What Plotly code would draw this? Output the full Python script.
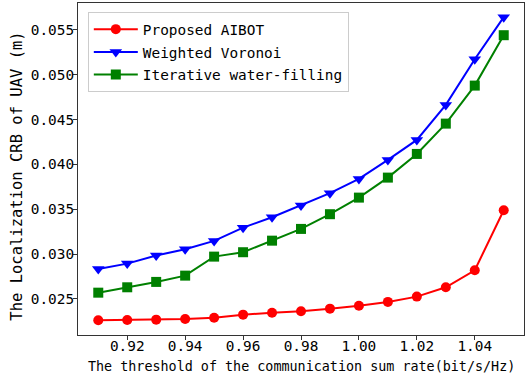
import plotly.graph_objects as go

x_vals = [0.91, 0.92, 0.93, 0.94, 0.95, 0.96, 0.97, 0.98, 0.99, 1.00, 1.01, 1.02, 1.03, 1.04, 1.05]
aibot = [0.02262, 0.02266, 0.02269, 0.02277, 0.02291, 0.02325, 0.02347, 0.02363, 0.02392,
         0.02425, 0.02467, 0.02526, 0.02630, 0.02820, 0.03489]
voronoi = [0.02835, 0.02894, 0.02984, 0.03055, 0.03147, 0.03295, 0.03411, 0.03541, 0.03679,
           0.03838, 0.04050, 0.04273, 0.04664, 0.05173, 0.05642]
waterfill = [0.02570, 0.02630, 0.02690, 0.02760, 0.02972, 0.03021, 0.03150, 0.03281, 0.03445,
             0.03630, 0.03853, 0.04117, 0.04455, 0.04879, 0.05441]
names = ["Proposed AIBOT", "Weighted Voronoi", "Iterative water-filling"]
x_ticks = [0.92, 0.94, 0.96, 0.98, 1.00, 1.02, 1.04]
y_ticks = [0.025, 0.030, 0.035, 0.040, 0.045, 0.050, 0.055]
x_title = "The threshold of the communication sum rate(bit/s/Hz)"
y_title = "The Localization CRB of UAV (m)"

FONT = "DejaVu Sans Mono"

fig = go.Figure()
fig.add_trace(go.Scatter(x=x_vals, y=aibot, name=names[0], mode="lines+markers",
                         legendgroup="a",
                         line=dict(color="#ff0000", width=2),
                         marker=dict(symbol="circle", size=10, color="#ff0000")))
fig.add_trace(go.Scatter(x=x_vals, y=voronoi, name=names[1], mode="lines+markers",
                         legendgroup="b",
                         line=dict(color="#0000ff", width=2),
                         marker=dict(symbol="triangle-down", size=11, color="#0000ff")))
fig.add_trace(go.Scatter(x=x_vals, y=waterfill, name=names[2], mode="lines+markers",
                         legendgroup="c",
                         line=dict(color="#008000", width=2),
                         marker=dict(symbol="square", size=10, color="#008000")))

axis_common = dict(showline=True, mirror=True, linecolor="#333333", linewidth=1,
                   ticks="outside", ticklen=4, tickcolor="#333333", showgrid=False,
                   zeroline=False, tickfont=dict(family=FONT, size=14.4, color="black"))

fig.update_layout(
    width=529, height=379,
    margin=dict(l=78, r=5, t=3, b=44),
    plot_bgcolor="white", paper_bgcolor="white",
    font=dict(family=FONT, color="black"),
    xaxis=dict(range=[0.903, 1.057], tickvals=x_ticks, tickformat=".2f",
               ticklabelstandoff=-6, **axis_common),
    yaxis=dict(range=[0.02098, 0.0580], tickvals=y_ticks, tickformat=".3f",
               ticklabelstandoff=-4, **axis_common),
    legend=dict(x=0.022, y=0.972, xanchor="left", yanchor="top",
                bgcolor="white", bordercolor="#cccccc", borderwidth=1,
                font=dict(family=FONT, size=14.4), itemwidth=44,
                traceorder="grouped", tracegroupgap=1),
    showlegend=True,
    annotations=[
        dict(text=x_title, xref="paper", yref="paper", x=0.5, y=-0.0934,
             xanchor="center", yanchor="middle", showarrow=False,
             font=dict(family=FONT, size=13.4, color="black")),
        dict(text=y_title, xref="paper", yref="paper", x=-0.1368, y=0.48,
             xanchor="center", yanchor="middle", showarrow=False, textangle=-90,
             font=dict(family=FONT, size=15.5, color="black")),
    ],
)

fig.write_html("out.html", config={"displayModeBar": False},
               post_script="document.body.style.margin='0';")
